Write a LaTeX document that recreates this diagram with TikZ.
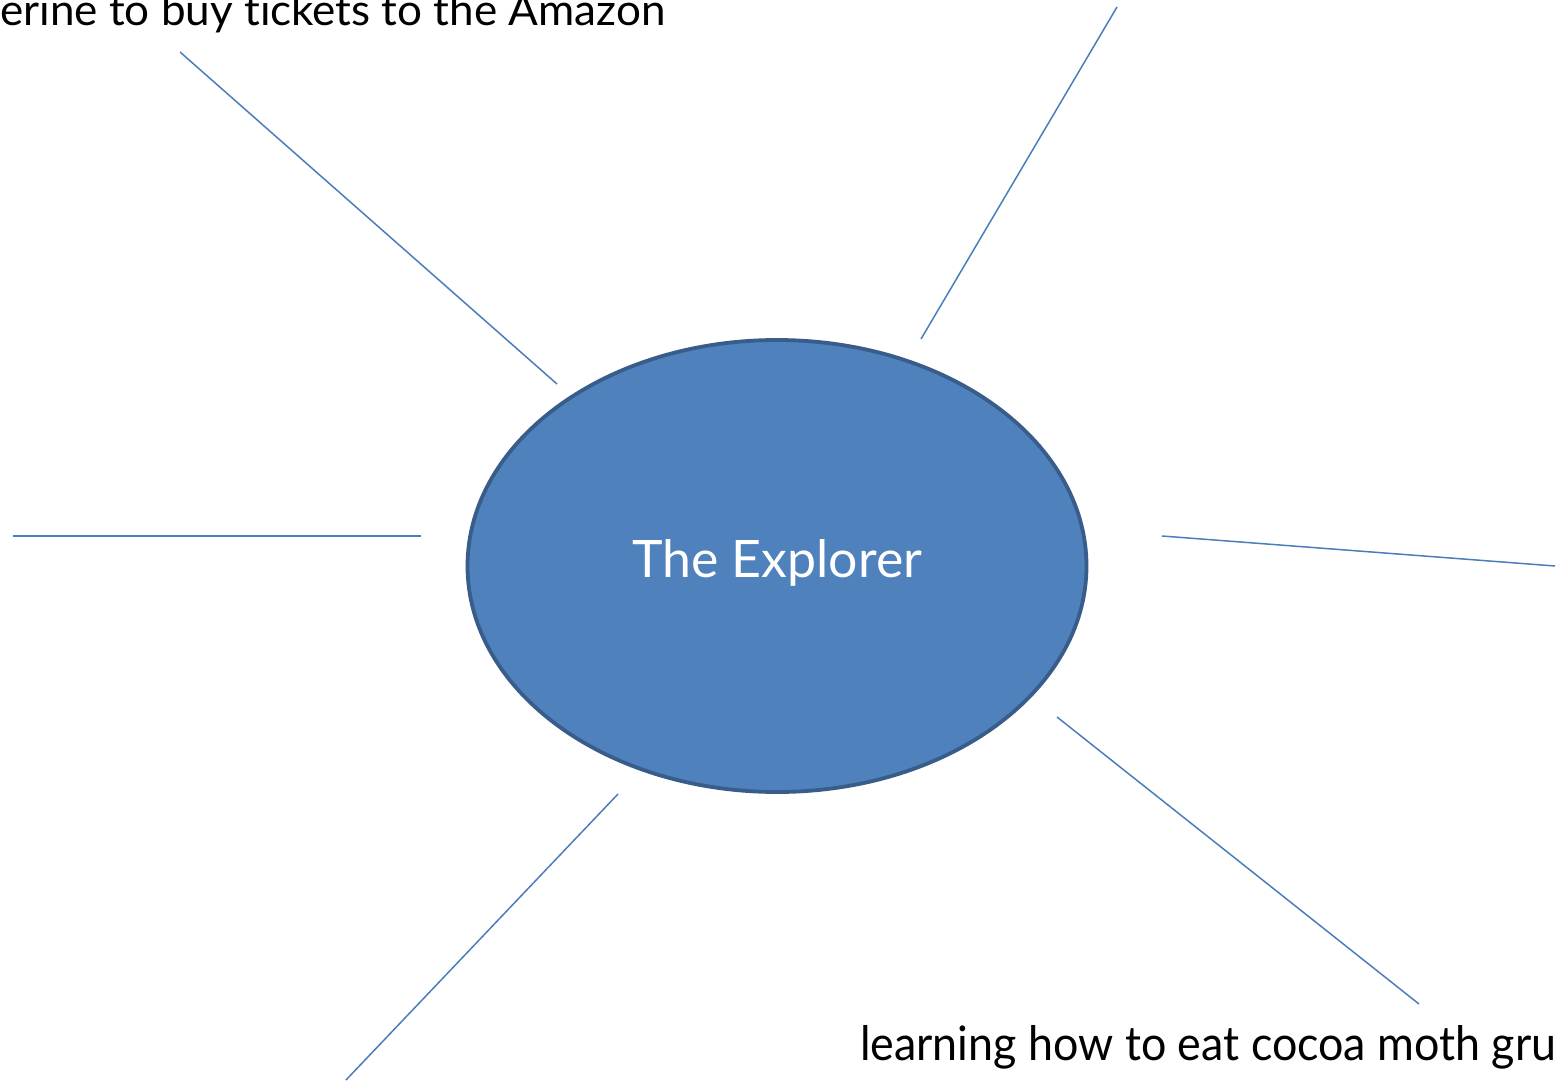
\documentclass[tikz,border=0pt]{standalone}
\usepackage{fontspec}
\setmainfont{Lato}[Ligatures=NoCommon]
\usetikzlibrary{shapes.geometric}
\definecolor{ovalfill}{HTML}{4F81BD}
\definecolor{ovaldraw}{HTML}{385D8A}
\definecolor{spokecol}{HTML}{4A7EBB}
\tikzset{
  spoke/.style={draw=spokecol, line width=1.5pt},
  oval/.style={ellipse, fill=ovalfill, draw=ovaldraw, line width=3.8pt, inner sep=0pt},
  lbl/.style={inner sep=0pt, anchor=base west, text=black},
}
\begin{document}
\begin{tikzpicture}[x=1pt,y=-1pt]
\useasboundingbox (0,0) rectangle (1560,1081);
\clip (0,0) rectangle (1560,1081);
\fill[white] (0,0) rectangle (1560,1081);
\node[oval, minimum width=619pt, minimum height=452pt] (c) at (777,566) {};
\node[lbl, text=white] (title) at (632,577) {\resizebox{290pt}{38pt}{The Explorer}};
\coordinate (a1) at (180,52);   \coordinate (a2) at (557,384);
\coordinate (b1) at (1117,7);   \coordinate (b2) at (921,339);
\coordinate (c1) at (13,536);   \coordinate (c2) at (421,536);
\coordinate (d1) at (1162,536); \coordinate (d2) at (1555,566);
\coordinate (e1) at (1057,717); \coordinate (e2) at (1419,1004);
\coordinate (f1) at (618,794);  \coordinate (f2) at (346,1080);
\draw[spoke] (a1) -- (a2);
\draw[spoke] (b1) -- (b2);
\draw[spoke] (c1) -- (c2);
\draw[spoke] (d1) -- (d2);
\draw[spoke] (e1) -- (e2);
\draw[spoke] (f1) -- (f2);
\node[lbl] (t1) at (0,26) {\resizebox{665pt}{32pt}{erine to buy tickets to the Amazon}};
\node[lbl] (t2) at (860,1060) {\resizebox{696pt}{35pt}{learning how to eat cocoa moth gru}};
\end{tikzpicture}
\end{document}
